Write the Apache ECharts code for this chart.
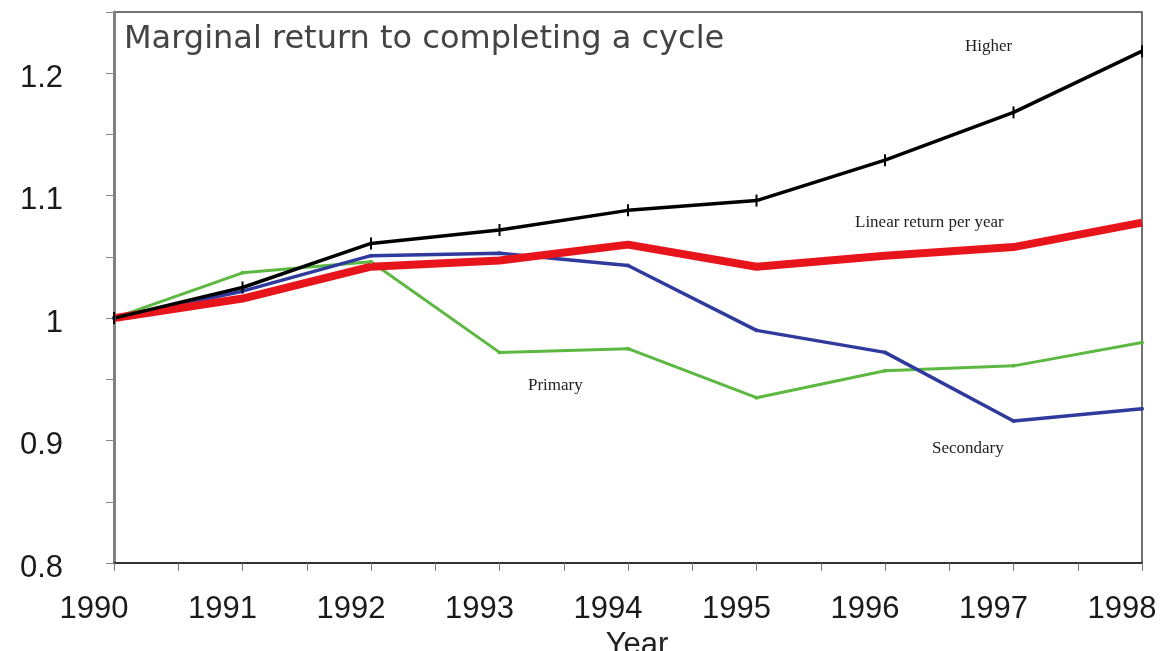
<!DOCTYPE html>
<html>
<head>
<meta charset="utf-8">
<style>
  html, body { margin: 0; padding: 0; background: #fff; }
  #chart { width: 1167px; height: 651px; }
</style>
<script src="https://cdn.jsdelivr.net/npm/echarts@6/dist/echarts.min.js"></script>
</head>
<body>
<div id="chart"></div>
<script>
var years = [1990, 1991, 1992, 1993, 1994, 1995, 1996, 1997, 1998];
var higher = [1.0, 1.025, 1.061, 1.072, 1.088, 1.096, 1.129, 1.168, 1.218];
var linearReturn = [1.0, 1.016, 1.042, 1.047, 1.060, 1.042, 1.051, 1.058, 1.078];
var secondary = [1.0, 1.022, 1.051, 1.053, 1.043, 0.990, 0.972, 0.916, 0.926];
var primary = [1.0, 1.037, 1.046, 0.972, 0.975, 0.935, 0.957, 0.961, 0.980];

function pairs(vals) {
  return years.map(function (y, i) { return [y, vals[i]]; });
}

var serifFont = "17px 'Liberation Serif'";

var chart = echarts.init(document.getElementById("chart"));
var option = {
  animation: false,
  grid: {
    left: 114,
    right: 25,
    top: 12,
    bottom: 88,
    outerBoundsMode: "none",
    containLabel: false,
    show: true,
    borderColor: "#444",
    borderWidth: 1.5,
  },
  title: {
    text: "Marginal return to completing a cycle",
    left: 119,
    top: 19,
    textStyle: {
      fontFamily: "DejaVu Sans",
      fontWeight: "normal",
      fontSize: 32,
      color: "#444",
    },
  },
  xAxis: {
    type: "value",
    min: 1990,
    max: 1998,
    interval: 0.5,
    name: "Year",
    nameLocation: "middle",
    nameGap: 66,
    nameTextStyle: {
      fontFamily: "Liberation Sans",
      fontSize: 31,
      color: "#222",
      padding: [0, 0, 0, 18],
    },
    axisLine: { lineStyle: { color: "#333", width: 2 } },
    axisTick: { length: 8, lineStyle: { color: "#777" } },
    splitLine: { show: false },
    axisLabel: {
      margin: 31,
      padding: [0, 40, 0, 0],
      fontFamily: "Liberation Sans",
      fontSize: 31,
      color: "#1a1a1a",
      formatter: function (v) {
        return v % 1 === 0 ? String(v) : "";
      },
    },
  },
  yAxis: {
    type: "value",
    min: 0.8,
    max: 1.25,
    interval: 0.05,
    axisLine: { show: true, lineStyle: { color: "#808080", width: 3 } },
    axisTick: { show: true, length: 8, lineStyle: { color: "#888" } },
    splitLine: { show: false },
    axisLabel: {
      margin: 51,
      formatter: function (v) {
        var k = Math.round(v * 100);
        return k % 10 === 0 ? "{t|" + k / 100 + "}" : "";
      },
      rich: {
        t: {
          fontFamily: "Liberation Sans",
          fontSize: 31,
          color: "#1a1a1a",
          padding: [10, 0, 0, 0],
        },
      },
    },
  },
  series: [
    {
      name: "Primary",
      type: "line",
      data: pairs(primary),
      symbol: "circle",
      symbolSize: 4,
      itemStyle: { color: "#5cb840" },
      lineStyle: { color: "#5cb840", width: 3 },
    },
    {
      name: "Secondary",
      type: "line",
      data: pairs(secondary),
      symbol: "circle",
      symbolSize: 4,
      itemStyle: { color: "#2f3a9c" },
      lineStyle: { color: "#2f3a9c", width: 3.5 },
    },
    {
      name: "Linear return per year",
      type: "line",
      data: pairs(linearReturn),
      symbol: "none",
      lineStyle: { color: "#e8141c", width: 8 },
    },
    {
      name: "Higher",
      type: "line",
      data: pairs(higher),
      symbol: "rect",
      symbolSize: [2, 12],
      itemStyle: { color: "#000" },
      lineStyle: { color: "#000", width: 3.5 },
    },
  ],
  graphic: [
    { type: "text", x: 965, y: 47, style: { text: "Higher", font: serifFont, fill: "#222", verticalAlign: "middle" } },
    { type: "text", x: 855, y: 223, style: { text: "Linear return per year", font: serifFont, fill: "#222", verticalAlign: "middle" } },
    { type: "text", x: 528, y: 386, style: { text: "Primary", font: serifFont, fill: "#222", verticalAlign: "middle" } },
    { type: "text", x: 932, y: 449, style: { text: "Secondary", font: serifFont, fill: "#222", verticalAlign: "middle" } },
  ],
};
chart.setOption(option);
</script>
</body>
</html>
